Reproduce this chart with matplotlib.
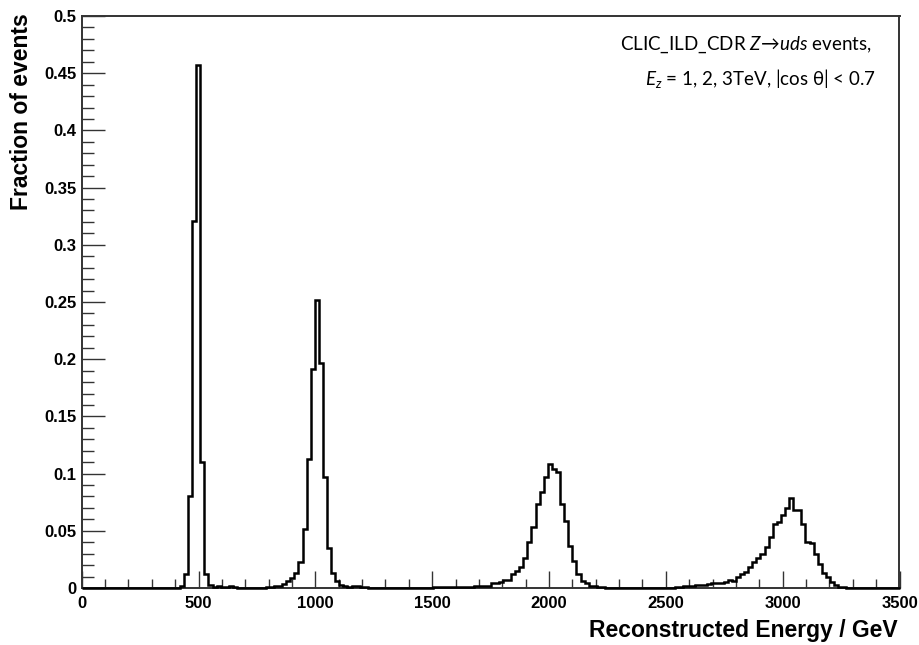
import numpy as np
import matplotlib
matplotlib.use('Agg')
import matplotlib.pyplot as plt
from matplotlib.ticker import MultipleLocator, FuncFormatter

# binning of the energy histogram (GeV)
e_min, e_max, n_bins = 0.0, 3500.0, 200

# fraction of events per bin for each sample; *_lo is the lower edge of the first bin
z500_lo = 420.0
z500 = [0.002, 0.012, 0.080, 0.321, 0.457, 0.110, 0.012, 0.003, 0.001, 0.002,
        0.001, 0.001, 0.002, 0.001]

z1000_lo = 787.5
z1000 = [0.001, 0.001, 0.002, 0.002, 0.0035, 0.006, 0.009, 0.013, 0.023, 0.052,
         0.113, 0.191, 0.252, 0.197, 0.097, 0.035, 0.013, 0.006, 0.003, 0.002,
         0.001, 0.002, 0.002, 0.001, 0.001]

z2000_lo = 1505.0
z2000 = [0.0005, 0.0005, 0.0005, 0.001, 0.0005, 0.001, 0.001, 0.001,
         0.001, 0.001, 0.0015, 0.0015, 0.002, 0.002, 0.004, 0.004, 0.005, 0.007, 0.007,
         0.012, 0.015, 0.018, 0.026, 0.040, 0.053, 0.073, 0.084, 0.097,
         0.108, 0.104, 0.101, 0.073, 0.059, 0.037, 0.024, 0.012, 0.006, 0.004,
         0.002, 0.002, 0.001, 0.001]

z3000_lo = 2537.5
z3000 = [0.001, 0.001, 0.0015, 0.002, 0.002, 0.0025, 0.003, 0.003, 0.0035, 0.004,
         0.004, 0.0045,
         0.005, 0.0067, 0.006, 0.0096, 0.0125, 0.014, 0.018, 0.023, 0.026, 0.030,
         0.036, 0.045, 0.056, 0.058, 0.064, 0.070,
         0.079, 0.068, 0.068, 0.056, 0.040, 0.039, 0.030, 0.021, 0.013, 0.0096,
         0.005, 0.0023, 0.001, 0.001]

edges = np.linspace(e_min, e_max, n_bins + 1)
width = edges[1] - edges[0]
frac = np.zeros(n_bins)
for lo, vals in [(z500_lo, z500), (z1000_lo, z1000), (z2000_lo, z2000), (z3000_lo, z3000)]:
    i0 = int(round((lo - e_min) / width))
    frac[i0:i0 + len(vals)] = vals

plt.rcParams['font.family'] = ['Liberation Sans', 'DejaVu Sans']
plt.rcParams['mathtext.fontset'] = 'custom'
plt.rcParams['mathtext.rm'] = 'Lato'
plt.rcParams['mathtext.it'] = 'Lato:italic'
plt.rcParams['mathtext.fallback'] = 'stix'

W, H = 919, 645
fig = plt.figure(figsize=(W / 100, H / 100), dpi=100)
fig.patch.set_facecolor('white')
ax = fig.add_axes([81.7 / W, 57 / H, (899.5 - 81.7) / W, (588 - 16) / H])

ax.stairs(frac, edges, color='black', linewidth=1.8, clip_on=False, zorder=3)

ax.set_xlim(e_min, e_max)
ax.set_ylim(0, 0.5)
ax.xaxis.set_major_locator(MultipleLocator(500))
ax.xaxis.set_minor_locator(MultipleLocator(100))
ax.yaxis.set_major_locator(MultipleLocator(0.05))
ax.yaxis.set_minor_locator(MultipleLocator(0.01))
ax.yaxis.set_major_formatter(FuncFormatter(lambda v, p: f'{v:.2f}'.rstrip('0').rstrip('.')))

for s in ax.spines.values():
    s.set_color('#333333')
    s.set_linewidth(1.4)

ax.tick_params(which='both', direction='in', top=False, right=False,
               color='#333333', width=1.0, labelsize=12)
ax.tick_params(axis='y', which='major', length=16.5, pad=4)
ax.tick_params(axis='y', which='minor', length=8.5)
ax.tick_params(axis='x', which='major', length=12.2, pad=6)
ax.tick_params(axis='x', which='minor', length=6.5)
for lab in ax.get_xticklabels() + ax.get_yticklabels():
    lab.set_fontweight('bold')

fig.text(22 / W, 1 - 13 / H, 'Fraction of events', rotation=90, ha='center', va='top',
         fontsize=16.5, fontweight='bold')
fig.text(898 / W, 1 - 630 / H, 'Reconstructed Energy / GeV', ha='right', va='center',
         fontsize=16.5, fontweight='bold')

fig.text(872 / W, 1 - 45 / H, r'CLIC_ILD_CDR $Z\!\rightarrow\!uds$ events,',
         ha='right', va='center', fontsize=13.5, family='Lato')
fig.text(876 / W, 1 - 78 / H, r'$E_z$ = 1, 2, 3TeV, |cos $\mathrm{\theta}$| < 0.7',
         ha='right', va='center', fontsize=13.5, family='Lato')

fig.savefig('out.png', dpi=100)
